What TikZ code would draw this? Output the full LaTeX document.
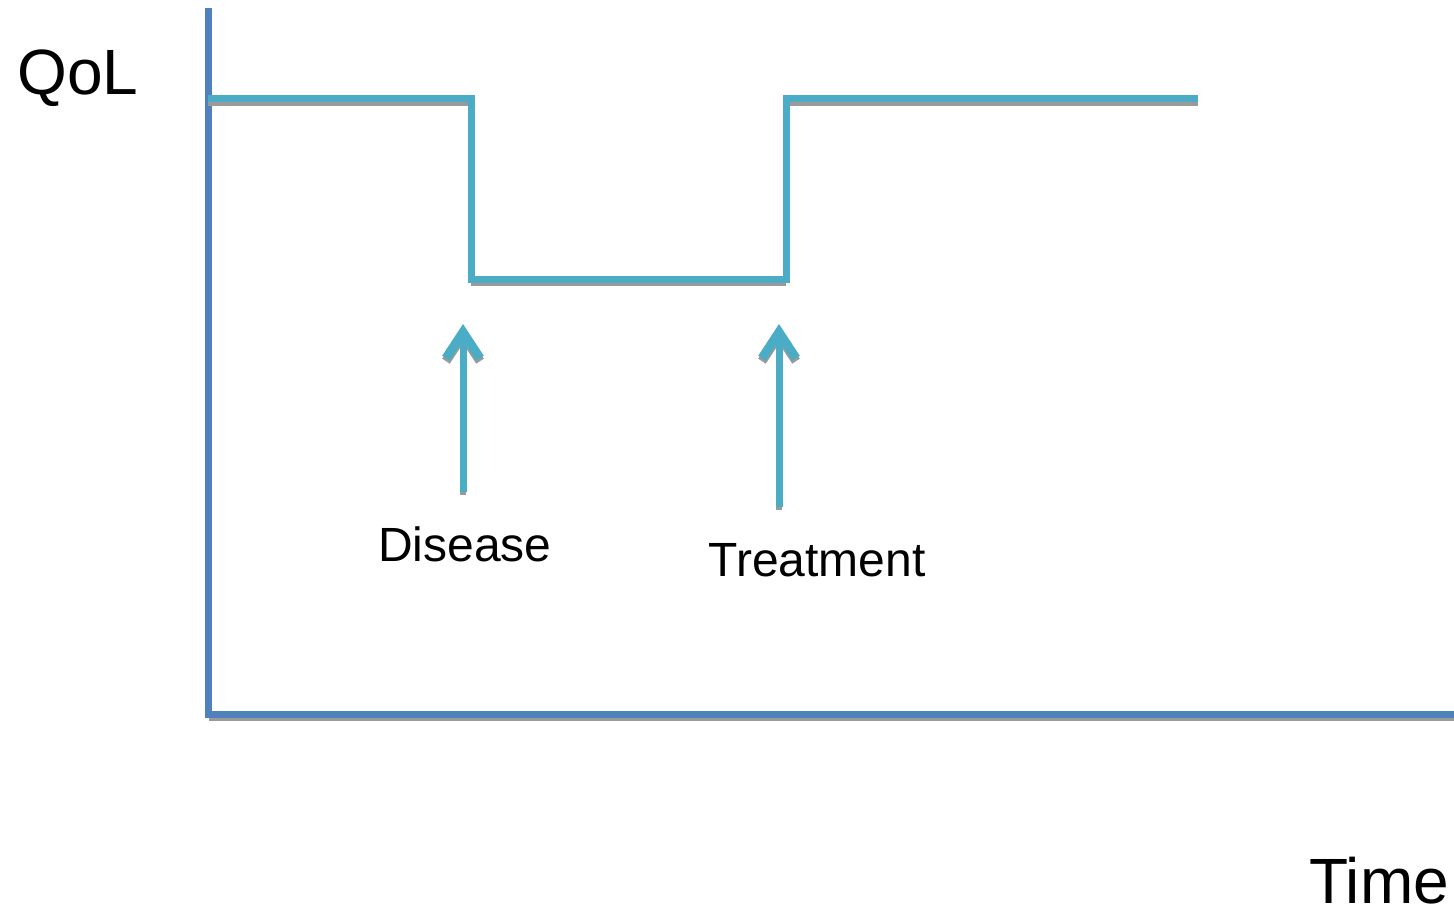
\documentclass[tikz,border=0pt]{standalone}
\usepackage{fontspec}
\setmainfont{Liberation Sans}
\usetikzlibrary{arrows.meta}
\definecolor{axisblue}{HTML}{4F81BD}
\definecolor{curveblue}{HTML}{4BACC6}
\definecolor{shade}{HTML}{9A9A9A}
\tikzset{
  axisline/.style={draw=axisblue, line width=7pt},
  curveline/.style={draw=curveblue, line width=7pt},
  shadowline/.style={draw=shade, line width=6pt},
  barbtip/.tip={Straight Barb[length=26pt,width=34pt,line width=9pt]},
  uparrow/.style={curveline, -barbtip},
  shadowarrow/.style={shadowline, -barbtip},
  biglabel/.style={font=\fontsize{64}{72}\selectfont, anchor=base, inner sep=0pt, text depth=0pt},
  midlabel/.style={font=\fontsize{48}{56}\selectfont, anchor=base, inner sep=0pt},
}
\begin{document}
\begin{tikzpicture}[x=1pt,y=-1pt]
\useasboundingbox (0,0) rectangle (1454,912);

% axes
\coordinate (top) at (208,8);
\coordinate (origin) at (208,714);
\coordinate (xend) at (1454,714);
\draw[shadowline] ([shift={(1,4)}]origin) -- ([shift={(1,4)}]xend);
\draw[axisline] (top) -- (origin) -- (xend);

% quality-of-life curve
\coordinate (q0) at (208,99);
\coordinate (q1) at (471,99);
\coordinate (q2) at (471,279);
\coordinate (q3) at (786,279);
\coordinate (q4) at (786,99);
\coordinate (q5) at (1198,99);
\draw[shadowline] ([shift={(0,4)}]q0) -- ([shift={(0,4)}]q1);
\draw[shadowline] ([shift={(0,4)}]q2) -- ([shift={(0,4)}]q3);
\draw[shadowline] ([shift={(0,4)}]q4) -- ([shift={(0,4)}]q5);
\draw[curveline] (q0) -- (q1) -- (q2) -- (q3) -- (q4) -- (q5);

% event arrows
\coordinate (d0) at (463,492);
\coordinate (d1) at (463,324);
\coordinate (t0) at (779,507);
\coordinate (t1) at (779,324);
\draw[shadowarrow] ([shift={(0,3)}]d0) -- ([shift={(0,3)}]d1);
\draw[shadowarrow] ([shift={(0,3)}]t0) -- ([shift={(0,3)}]t1);
\draw[uparrow] (d0) -- (d1);
\draw[uparrow] (t0) -- (t1);

% labels
\node[biglabel] (qol) at (78,95) {QoL};
\node[biglabel] (time) at (1379,903) {Time};
\node[midlabel] (disease) at (465,561) {Disease};
\node[midlabel] (treatment) at (817,576) {Treatment};
\end{tikzpicture}
\end{document}
